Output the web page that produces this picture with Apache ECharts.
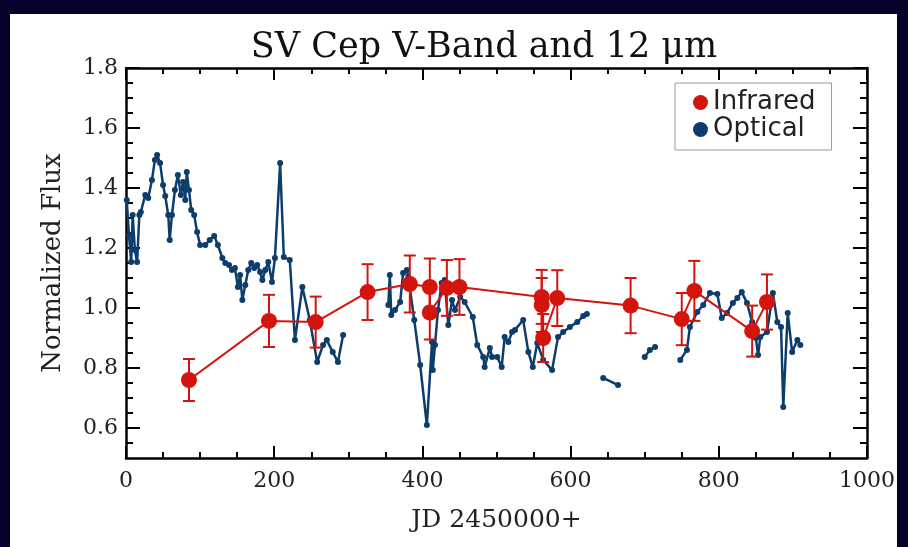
<!DOCTYPE html>
<html><head><meta charset="utf-8">
<script src="https://cdn.jsdelivr.net/npm/echarts@6/dist/echarts.min.js"></script>
<style>html,body{margin:0;padding:0;background:#05032c;}#c{width:908px;height:547px;}</style>
</head><body><div id="c"></div>
<script>
// Infrared (12 micron) points with error bars
const irX   = [85, 193, 256, 326, 383, 410, 410, 433, 450, 561, 561, 563, 582, 681, 750, 767, 845, 865];
const irY   = [0.76, 0.957, 0.953, 1.053, 1.08, 1.07, 0.985, 1.067, 1.07, 1.037, 1.01, 0.90, 1.033, 1.008, 0.963, 1.057, 0.923, 1.02];
const irErr = [0.07, 0.087, 0.085, 0.093, 0.095, 0.095, 0.09, 0.093, 0.093, 0.09, 0.09, 0.08, 0.093, 0.092, 0.087, 0.1, 0.085, 0.092];

// Optical (V-band) light curve; null marks a gap in the curve
const optX = [1, 4, 7, 9, 12, 15, 18, 20, 26, 30, 35, 39, 42, 46, 50, 53, 57, 59, 62, 66, 70, 74, 77, 80, 82, 85, 88, 92, 96, 100, 107, 113, 119, 124, 130, 134, 139, 143, 147, 151, 154, 157, 161, 165, 169, 173, 177, 181, 184, 188, 192, 197, 201, 208, 213, 221, 228, 238, 248, 258, 266, 271, 279, 286, 293,
  null,
  354, 356, 358, 363, 370, 374, 379, 381, 389, 397, 406, 413, 414, 417, 421, 426, 430, 435, 440, 444, 451, 457, 468, 474, 482, 484, 491, 494, 501, 507, 511, 516, 521, 525, 536, 543, 549, 555, 563, 575, 583, 590, 599, 609, 617, 622,
  null,
  644, 664,
  null,
  700, 707, 714,
  null,
  748, 757, 761, 771, 779, 788, 798, 804, 811, 819, 825, 831, 838, 845, 850, 853, 856, 865, 873, 879, 884, 887, 893, 899, 906, 910];
const optY = [1.36, 1.243, 1.153, 1.31, 1.193, 1.153, 1.31, 1.32, 1.377, 1.367, 1.427, 1.493, 1.51, 1.483, 1.41, 1.373, 1.31, 1.227, 1.31, 1.393, 1.443, 1.377, 1.42, 1.36, 1.453, 1.393, 1.327, 1.31, 1.253, 1.21, 1.21, 1.227, 1.24, 1.21, 1.167, 1.15, 1.143, 1.127, 1.133, 1.07, 1.11, 1.027, 1.077, 1.127, 1.15, 1.133, 1.143, 1.12, 1.093, 1.127, 1.153, 1.087, 1.167, 1.483, 1.17, 1.16, 0.893, 1.07, 0.96, 0.82, 0.877, 0.893, 0.853, 0.82, 0.91,
  null,
  1.01, 1.11, 0.977, 0.993, 1.02, 1.117, 1.127, 1.103, 0.96, 0.81, 0.61, 0.887, 0.793, 0.877, 0.993, 1.083, 1.093, 0.943, 1.027, 0.993, 1.037, 1.02, 0.97, 0.877, 0.837, 0.803, 0.867, 0.837, 0.837, 0.803, 0.903, 0.887, 0.92, 0.927, 0.96, 0.853, 0.803, 0.883, 0.827, 0.793, 0.903, 0.92, 0.937, 0.953, 0.973, 0.98,
  null,
  0.767, 0.743,
  null,
  0.837, 0.86, 0.87,
  null,
  0.827, 0.86, 0.937, 0.987, 1.01, 1.05, 1.047, 0.967, 0.983, 1.017, 1.033, 1.053, 1.017, 0.953, 0.9, 0.843, 0.903, 0.92, 1.05, 0.953, 0.937, 0.67, 0.983, 0.853, 0.893, 0.877];

const yMajor = [0.6, 0.8, 1.0, 1.2, 1.4, 1.6, 1.8];
const yMinor = [0.55, 0.65, 0.7, 0.75, 0.85, 0.9, 0.95, 1.05, 1.1, 1.15, 1.25, 1.3, 1.35, 1.45, 1.5, 1.55, 1.65, 1.7, 1.75];

const RED = '#d3140f';
const BLUE = '#0c3d6b';
const SERIF = '"DejaVu Serif", serif';

const irData = irX.map((x, i) => [x, irY[i], irErr[i]]);
const optData = optX.map((x, i) => (x === null ? ['-', '-'] : [x, optY[i]]));

const chart = echarts.init(document.getElementById('c'), null, {renderer: 'canvas'});

function xAxisDef(pos, main) {
  return {
    type: 'value', min: 0, max: 1000, interval: 200, position: pos,
    axisLine: {show: true, lineStyle: {color: '#000', width: 2.5}},
    axisTick: {show: true, inside: true, length: 12, lineStyle: {color: '#000', width: 2}},
    minorTick: {show: true, splitNumber: 4, length: 6, lineStyle: {color: '#000', width: 2}},
    axisLabel: {show: main, fontFamily: SERIF, fontSize: 22, color: '#222', margin: 12, formatter: v => String(v)},
    splitLine: {show: false},
    name: main ? 'JD 2450000+' : '',
    nameLocation: 'middle', nameGap: 50,
    nameTextStyle: {fontFamily: SERIF, fontSize: 25, color: '#222'}
  };
}
function yAxisDef(pos, ticks, len, major) {
  return {
    type: 'value', min: 0.5, max: 1.8, position: pos,
    axisLine: {show: major, lineStyle: {color: '#000', width: 2.5}},
    axisTick: {show: true, inside: false, length: -len, customValues: ticks, lineStyle: {color: '#000', width: 2}},
    axisLabel: {show: major && pos === 'left', customValues: ticks, fontFamily: SERIF, fontSize: 22, color: '#222', margin: 8,
      formatter: v => v.toFixed(1)},
    splitLine: {show: false},
    name: (major && pos === 'left') ? 'Normalized Flux' : '',
    nameLocation: 'middle', nameGap: 60, nameRotate: 90,
    nameTextStyle: {fontFamily: SERIF, fontSize: 26, color: '#222'}
  };
}

chart.setOption({
  animation: false,
  backgroundColor: '#05032c',
  graphic: [{type: 'rect', z: -10, shape: {x: 10, y: 14, width: 887, height: 533}, style: {fill: '#ffffff'}}],
  title: {
    text: 'SV Cep V-Band and 12 μm', left: 479, top: 25, textAlign: 'center',
    textStyle: {fontFamily: SERIF, fontSize: 35, fontWeight: 'normal', color: '#111'}
  },
  legend: {
    orient: 'vertical', left: 675, top: 83,
    data: ['Infrared', 'Optical'],
    icon: 'circle', itemWidth: 15, itemHeight: 15, itemGap: 0,
    padding: [6, 16, 7, 18],
    borderColor: '#999', borderWidth: 1, backgroundColor: '#fff',
    textStyle: {fontFamily: '"DejaVu Sans", sans-serif', fontSize: 26, lineHeight: 27, color: '#222'}
  },
  grid: {left: 126, right: 41, top: 68, bottom: 89},
  xAxis: [
    xAxisDef('bottom', true),
    xAxisDef('top', false)
  ],
  yAxis: [
    yAxisDef('left', yMajor, 14, true),
    yAxisDef('left', yMinor, 7, false),
    yAxisDef('right', yMajor, 14, true),
    yAxisDef('right', yMinor, 7, false)
  ],
  series: [
    {
      name: 'Optical', type: 'line', data: optData, connectNulls: false,
      symbol: 'circle', symbolSize: 6, showSymbol: true,
      itemStyle: {color: BLUE}, lineStyle: {color: BLUE, width: 2.5}, z: 3
    },
    {
      name: 'InfraredErr', type: 'custom', data: irData, z: 4,
      renderItem: function (params, api) {
        const x = api.value(0), y = api.value(1), e = api.value(2);
        const top = api.coord([x, y + e]);
        const bot = api.coord([x, y - e]);
        const hw = 6;
        const st = {stroke: RED, lineWidth: 2};
        return {type: 'group', children: [
          {type: 'line', shape: {x1: top[0], y1: top[1], x2: bot[0], y2: bot[1]}, style: st},
          {type: 'line', shape: {x1: top[0] - hw, y1: top[1], x2: top[0] + hw, y2: top[1]}, style: st},
          {type: 'line', shape: {x1: bot[0] - hw, y1: bot[1], x2: bot[0] + hw, y2: bot[1]}, style: st}
        ]};
      }
    },
    {
      name: 'Infrared', type: 'line', data: irData.map(d => [d[0], d[1]]),
      symbol: 'circle', symbolSize: 16,
      itemStyle: {color: RED}, lineStyle: {color: RED, width: 2}, z: 5
    }
  ]
});
</script></body></html>
